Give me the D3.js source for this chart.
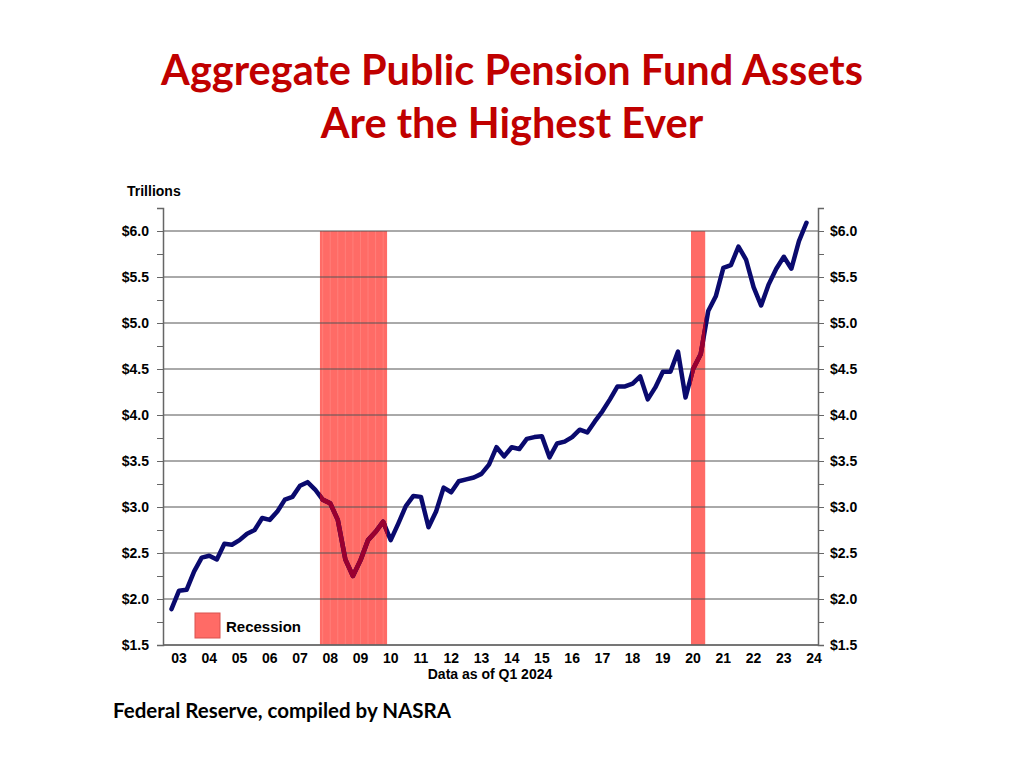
<!DOCTYPE html>
<html><head><meta charset="utf-8">
<script src="https://cdn.jsdelivr.net/npm/d3@7"></script>
<style>body{margin:0;background:#fff}</style></head>
<body><svg id="c" width="1024" height="768"></svg>
<script>
const values=[1.89,2.09,2.10,2.30,2.45,2.47,2.43,2.60,2.59,2.64,
2.71,2.75,2.88,2.86,2.95,3.08,3.11,3.23,3.27,3.19,
3.08,3.04,2.86,2.43,2.25,2.42,2.64,2.73,2.84,2.64,
2.82,3.01,3.12,3.11,2.78,2.95,3.21,3.16,3.28,3.30,
3.32,3.36,3.46,3.65,3.55,3.65,3.63,3.74,3.76,3.77,
3.54,3.69,3.71,3.76,3.84,3.81,3.93,4.04,4.17,4.31,
4.31,4.34,4.42,4.17,4.30,4.47,4.47,4.69,4.19,4.50,
4.66,5.13,5.29,5.60,5.63,5.83,5.69,5.39,5.19,5.42,
5.59,5.72,5.59,5.89,6.09];
const startYear=2002.75, step=0.25;
const recessions=[[2007.66,2009.88],[2019.93,2020.40]];
const yearLabels=["03","04","05","06","07","08","09","10","11","12","13","14","15","16","17","18","19","20","21","22","23","24"];
const yTicks=[1.5,2.0,2.5,3.0,3.5,4.0,4.5,5.0,5.5,6.0];

const svg=d3.select("#c");
const L=163,R=818,T=208,B=645;
const x=d3.scaleLinear().domain([2002.47,2024.13]).range([L,R]);
const y=d3.scaleLinear().domain([1.5,6.25]).range([B,T]);
const F="Liberation Sans, Arial, sans-serif";
const TF="Lato, Open Sans, sans-serif";

svg.append("text").attr("x",512).attr("y",85).attr("text-anchor","middle").attr("fill","#c00000")
 .attr("font-family",TF).attr("font-weight","bold").attr("font-size",41.5).text("Aggregate Public Pension Fund Assets");
svg.append("text").attr("x",512).attr("y",138).attr("text-anchor","middle").attr("fill","#c00000")
 .attr("font-family",TF).attr("font-weight","bold").attr("font-size",41.5).text("Are the Highest Ever");

svg.selectAll("rect.rec").data(recessions).join("rect")
 .attr("x",d=>x(d[0])).attr("width",d=>x(d[1])-x(d[0]))
 .attr("y",y(6.0)).attr("height",y(1.5)-y(6.0)).attr("fill","#ff6b66");
const stripes=d3.range(Math.ceil(recessions[0][0]*4)/4,recessions[0][1],0.25);
svg.selectAll("line.st").data(stripes).join("line").attr("x1",d=>x(d)).attr("x2",d=>x(d))
 .attr("y1",y(6.0)).attr("y2",y(1.5)).attr("stroke","#ff7f7a").attr("stroke-width",1);

svg.selectAll("line.g").data(yTicks).join("line").attr("x1",L).attr("x2",R)
 .attr("y1",d=>y(d)).attr("y2",d=>y(d)).attr("stroke","#555").attr("stroke-width",1);

const fmt=d=>"$"+d.toFixed(1);
const minor=d3.range(1.5,6.3,0.25);
const la=svg.append("g").attr("transform",`translate(${L},0)`)
 .call(d3.axisLeft(y).tickValues(minor).tickSize(6).tickFormat(""));
const ra=svg.append("g").attr("transform",`translate(${R},0)`)
 .call(d3.axisRight(y).tickValues(minor).tickSize(6).tickFormat(""));
[la,ra].forEach(g=>{g.select(".domain").attr("stroke","#666").attr("stroke-width",1.5);g.selectAll("line").attr("stroke","#666");});
svg.selectAll("text.yl").data(yTicks).join("text").attr("x",149).attr("y",d=>y(d)+5)
 .attr("text-anchor","end").attr("font-family",F).attr("font-weight","bold").attr("font-size",14).text(fmt);
svg.selectAll("text.yr").data(yTicks).join("text").attr("x",830).attr("y",d=>y(d)+5)
 .attr("font-family",F).attr("font-weight","bold").attr("font-size",14).text(fmt);
svg.append("line").attr("x1",L).attr("x2",R).attr("y1",B).attr("y2",B).attr("stroke","#666").attr("stroke-width",1.5);
svg.selectAll("text.xl").data(yearLabels).join("text").attr("x",(d,i)=>x(2003+i)).attr("y",663)
 .attr("text-anchor","middle").attr("font-family",F).attr("font-weight","bold").attr("font-size",14).text(d=>d);
svg.append("text").attr("x",490).attr("y",679).attr("text-anchor","middle").attr("font-family",F)
 .attr("font-weight","bold").attr("font-size",14).text("Data as of Q1 2024");
svg.append("text").attr("x",127).attr("y",196).attr("font-family",F).attr("font-weight","bold").attr("font-size",14).text("Trillions");

const line=d3.line().x((d,i)=>x(startYear+i*step)).y(d=>y(d));
svg.append("path").datum(values).attr("d",line).attr("fill","none").attr("stroke","#0a0a6e")
 .attr("stroke-width",4.5).attr("stroke-linejoin","round").attr("stroke-linecap","round");
svg.append("defs").append("clipPath").attr("id","cp").selectAll("rect").data(recessions).join("rect")
 .attr("x",d=>x(d[0])).attr("width",d=>x(d[1])-x(d[0])).attr("y",y(6.0)).attr("height",y(1.5)-y(6.0));
svg.append("path").datum(values).attr("d",line).attr("fill","none").attr("stroke","#9a0030")
 .attr("stroke-width",4.6).attr("clip-path","url(#cp)").attr("stroke-linejoin","round");

svg.append("rect").attr("x",195).attr("y",613).attr("width",25).attr("height",25).attr("fill","#ff6b66").attr("stroke","#d9534f");
svg.append("text").attr("x",226).attr("y",632).attr("font-family",F).attr("font-weight","bold").attr("font-size",15).text("Recession");

svg.append("text").attr("x",113).attr("y",718).attr("font-family",TF).attr("font-weight","bold").attr("font-size",20.5).text("Federal Reserve, compiled by NASRA");
</script></body></html>
